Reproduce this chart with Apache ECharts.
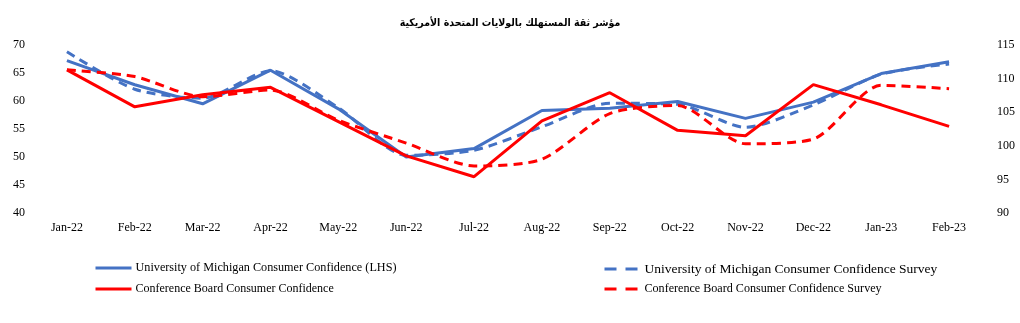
<!DOCTYPE html>
<html>
<head>
<meta charset="utf-8">
<script src="https://cdn.jsdelivr.net/npm/echarts@6/dist/echarts.min.js"></script>
<style>html,body{margin:0;padding:0;background:#fff;}#c{width:1020px;height:323px;}</style>
</head>
<body>
<div id="c"></div>
<script>
var categories = ['Jan-22','Feb-22','Mar-22','Apr-22','May-22','Jun-22','Jul-22','Aug-22','Sep-22','Oct-22','Nov-22','Dec-22','Jan-23','Feb-23'];
var umich = [67.2, 62.9, 59.5, 65.5, 58.6, 50.0, 51.5, 58.3, 58.7, 59.9, 56.9, 59.8, 64.9, 67.0];
var umichSurvey = [68.8, 62.1, 60.5, 65.4, 58.8, 50.3, 51.2, 55.4, 59.6, 59.4, 55.3, 59.3, 64.8, 66.6];
var cb = [111.3, 105.8, 107.6, 108.7, 103.6, 98.5, 95.4, 103.7, 107.9, 102.3, 101.5, 109.1, 106.1, 102.9];
var cbSurvey = [111.3, 110.3, 107.3, 108.3, 103.8, 100.4, 97.0, 98.0, 104.8, 106.0, 100.3, 101.0, 109.0, 108.5];
var leftTicks = [40, 70, 5];
var rightTicks = [90, 115, 5];
var title = 'مؤشر ثقة المستهلك بالولايات المتحدة الأمريكية';
var names = ['University of Michigan Consumer Confidence (LHS)', 'University of Michigan Consumer Confidence Survey', 'Conference Board Consumer Confidence', 'Conference Board Consumer Confidence Survey'];

var BLUE = '#4472C4', RED = '#FF0000';
var serif = '"Liberation Serif", "Times New Roman", serif';
var chart = echarts.init(document.getElementById('c'), null, {renderer: 'canvas'});
function leg(name, left, top, size, dashed) {
  return {
    data: [name], left: left, top: top, itemWidth: 36, itemHeight: 10, itemGap: 4,
    itemStyle: {opacity: 0},
    lineStyle: dashed ? {type: [12, 9], width: 3} : {width: 3},
    textStyle: {fontFamily: serif, fontSize: size, color: '#000', padding: [0,0,0,-1]},
    selectedMode: false
  };
}
chart.setOption({
  animation: false,
  title: {text: title, left: 'center', top: 13, textStyle: {fontFamily: '"DejaVu Sans Condensed", "DejaVu Sans", sans-serif', fontWeight: 'bold', fontSize: 10.5, color: '#000'}},
  grid: {left: 33, right: 37, top: 45, bottom: 110},
  legend: [
    leg(names[0], 89, 257, 12.2, false),
    leg(names[1], 598, 257, 13.5, true),
    leg(names[2], 89, 278, 12, false),
    leg(names[3], 598, 278, 12.1, true)
  ],
  xAxis: {
    type: 'category', data: categories, boundaryGap: true,
    axisLine: {show: false}, axisTick: {show: false},
    axisLabel: {fontFamily: serif, fontSize: 12, color: '#000', margin: 9, interval: 0}
  },
  yAxis: [
    {type: 'value', min: leftTicks[0], max: leftTicks[1], interval: leftTicks[2], splitLine: {show: false},
     axisLine: {show: false}, axisTick: {show: false},
     axisLabel: {fontFamily: serif, fontSize: 12, color: '#000', margin: 8}},
    {type: 'value', min: rightTicks[0], max: rightTicks[1], interval: rightTicks[2], splitLine: {show: false},
     axisLine: {show: false}, axisTick: {show: false}, position: 'right',
     axisLabel: {fontFamily: serif, fontSize: 12, color: '#000', margin: 14}}
  ],
  series: [
    {name: names[0], type: 'line', data: umich, yAxisIndex: 0, symbol: 'none', color: BLUE,
     lineStyle: {color: BLUE, width: 3}},
    {name: names[1], type: 'line', data: umichSurvey, yAxisIndex: 0, symbol: 'none', smooth: 0.25, color: BLUE,
     lineStyle: {color: BLUE, width: 3, type: [9, 6]}},
    {name: names[2], type: 'line', data: cb, yAxisIndex: 1, symbol: 'none', color: RED,
     lineStyle: {color: RED, width: 3}},
    {name: names[3], type: 'line', data: cbSurvey, yAxisIndex: 1, symbol: 'none', smooth: 0.25, color: RED,
     lineStyle: {color: RED, width: 3, type: [9, 6]}}
  ]
});
</script>
</body>
</html>
